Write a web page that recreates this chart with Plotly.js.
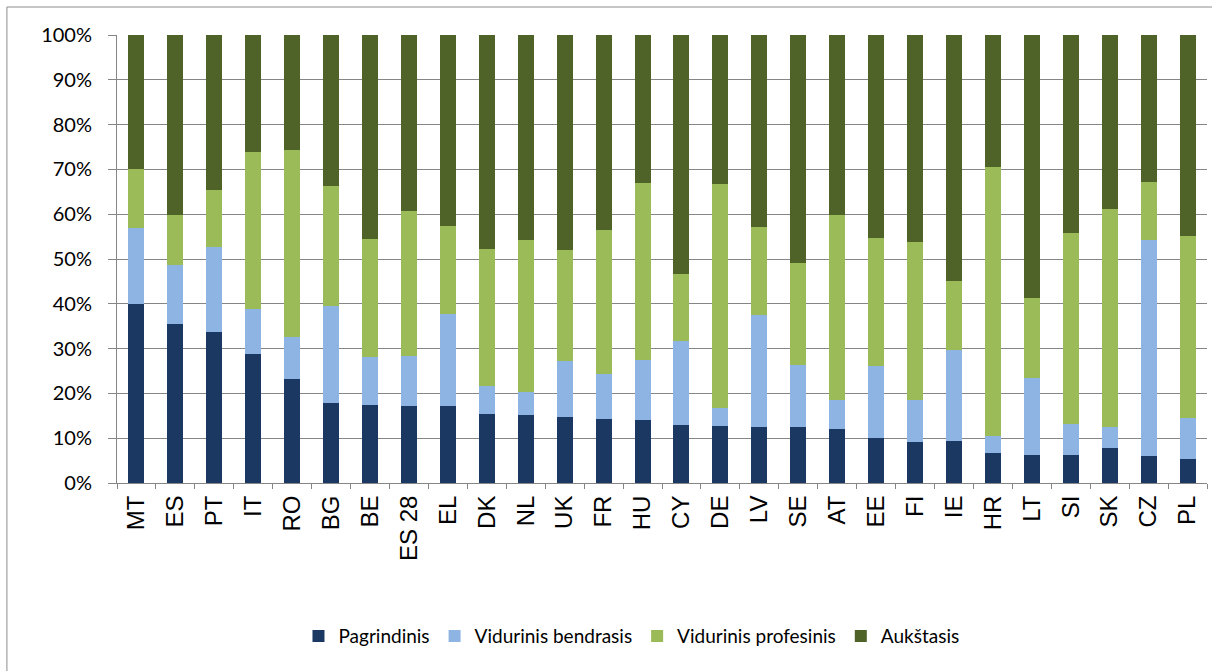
<!DOCTYPE html>
<html>
<head>
<meta charset="utf-8">
<script src="https://cdn.plot.ly/plotly-3.0.1.min.js"></script>
<style>
  html, body { margin: 0; padding: 0; background: #fff; }
  #chart { width: 1212px; height: 671px; }
</style>
</head>
<body>
<div id="chart"></div>
<script>
// Countries, ordered as in the source chart
const countries = ['MT', 'ES', 'PT', 'IT', 'RO', 'BG', 'BE', 'ES 28', 'EL', 'DK', 'NL', 'UK', 'FR', 'HU', 'CY',
  'DE', 'LV', 'SE', 'AT', 'EE', 'FI', 'IE', 'HR', 'LT', 'SI', 'SK', 'CZ', 'PL'];

// Shares (%) by education level
const pagrindinis = [39.9, 35.4, 33.8, 28.8, 23.3, 17.8, 17.5, 17.2, 17.1, 15.4, 15.2, 14.8, 14.2, 14.1, 13.0,
  12.8, 12.6, 12.4, 12.0, 10.0, 9.2, 9.3, 6.6, 6.3, 6.3, 7.9, 6.0, 5.3];
const vidBendrasis = [17.1, 13.2, 18.9, 10.1, 9.3, 21.6, 10.7, 11.1, 20.7, 6.3, 5.1, 12.4, 10.1, 13.4, 18.7,
  4.0, 24.8, 14.0, 6.6, 16.2, 9.3, 20.5, 3.9, 17.2, 6.9, 4.5, 48.2, 9.2];
const vidProfesinis = [13.2, 11.3, 12.7, 34.9, 41.8, 26.8, 26.2, 32.5, 19.5, 30.5, 34.0, 24.7, 32.1, 39.5, 14.9,
  50.0, 19.8, 22.6, 41.2, 28.4, 35.2, 15.2, 60.0, 17.9, 42.6, 48.7, 12.9, 40.6];
const aukstasis = [29.8, 40.1, 34.6, 26.2, 25.6, 33.8, 45.6, 39.2, 42.7, 47.8, 45.7, 48.1, 43.6, 33.0, 53.4,
  33.2, 42.8, 51.0, 40.2, 45.4, 46.3, 55.0, 29.5, 58.6, 44.2, 38.9, 32.9, 44.9];

const seriesNames = ['Pagrindinis', 'Vidurinis bendrasis', 'Vidurinis profesinis', 'Aukštasis'];
const seriesColors = ['#1a3862', '#8eb4e3', '#9bbb59', '#4f6228'];

const traces = [pagrindinis, vidBendrasis, vidProfesinis, aukstasis].map((vals, i) => ({
  x: countries,
  y: vals.map(v => v / 100),
  name: seriesNames[i],
  type: 'bar',
  marker: { color: seriesColors[i], line: { width: 0 } },
  hoverinfo: 'x+y+name',
}));

const layout = {
  width: 1212,
  height: 671,
  barmode: 'stack',
  bargap: 0.59,
  margin: { l: 117, r: 5, t: 35, b: 188 },
  paper_bgcolor: '#fff',
  plot_bgcolor: '#fff',
  font: { family: 'Lato, "Open Sans", sans-serif', color: '#000' },
  xaxis: {
    type: 'category',
    tickangle: -90,
    tickfont: { family: '"Liberation Sans", Arial, sans-serif', size: 24, color: '#000' },
    showline: true,
    linecolor: '#868686',
    linewidth: 1,
    ticks: 'outside',
    tickson: 'boundaries',
    ticklen: 5,
    tickcolor: '#868686',
    ticklabelstandoff: 2,
    showgrid: false,
    fixedrange: true,
  },
  yaxis: {
    range: [0, 1],
    dtick: 0.1,
    tickformat: '.0%',
    tickfont: { family: 'Lato, "Open Sans", sans-serif', size: 20, color: '#000' },
    showline: true,
    linecolor: '#868686',
    linewidth: 1,
    ticks: 'outside',
    ticklen: 8,
    tickcolor: '#868686',
    ticklabelstandoff: 12,
    showgrid: true,
    gridcolor: '#868686',
    gridwidth: 1,
    zeroline: false,
    fixedrange: true,
  },
  showlegend: true,
  legend: {
    orientation: 'h',
    x: 0.472,
    xanchor: 'center',
    y: -0.342,
    yanchor: 'middle',
    font: { family: 'Lato, "Open Sans", sans-serif', size: 19, color: '#000' },
    itemwidth: 30,
    traceorder: 'normal',
  },
  // outer chart frame (only left and top edges fall inside the picture)
  shapes: [{
    type: 'rect', xref: 'paper', yref: 'paper',
    x0: -0.101, x1: 1.2, y0: -0.6, y1: 1.0625,
    line: { color: '#8c8c8c', width: 1 },
    fillcolor: 'rgba(0,0,0,0)',
    layer: 'below',
  }],
};

Plotly.newPlot('chart', traces, layout, { displayModeBar: false, staticPlot: true });
</script>
</body>
</html>
